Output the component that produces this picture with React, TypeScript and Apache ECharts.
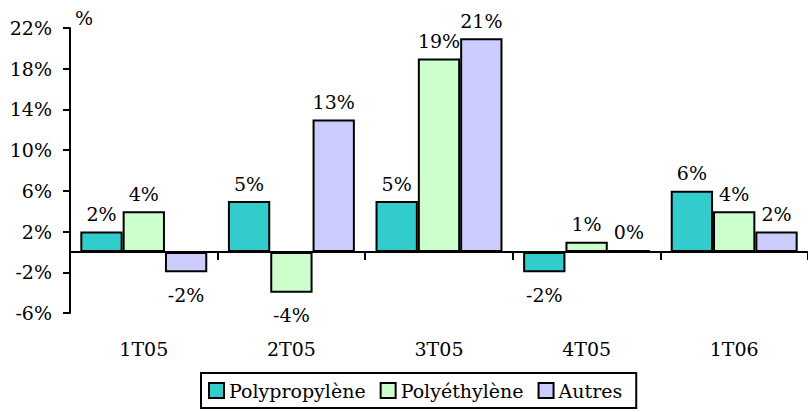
import React, { useEffect, useRef } from "react";
import * as echarts from "echarts";

const categories = ["1T05", "2T05", "3T05", "4T05", "1T06"];
const seriesNames = ["Polypropylène", "Polyéthylène", "Autres"];
const polypropylene = [2, 5, 5, -2, 6];
const polyethylene = [4, -4, 19, 1, 4];
const autres = [-2, 13, 21, 0.2, 2];
const yTicks = [-6, -2, 2, 6, 10, 14, 18, 22];
const colors = ["#33CCCC", "#CCFFCC", "#CCCCFF"];

const FONT = "DejaVu Serif";
const FS = 19;

export default function App() {
  const ref = useRef<HTMLDivElement>(null);
  useEffect(() => {
    if (!ref.current) return;
    const chart = echarts.init(ref.current, undefined, { renderer: "svg" });
    const allSeries = [polypropylene, polyethylene, autres];
    chart.setOption({
      animation: false,
      grid: { left: 70, top: 28, width: 741, height: 285, containLabel: false },
      legend: {
        left: 201,
        top: 373,
        orient: "horizontal",
        data: seriesNames,
        icon: "rect",
        itemWidth: 15,
        itemHeight: 15,
        itemGap: 14,
        padding: [8, 14, 8, 7],
        borderColor: "#000",
        borderWidth: 2,
        textStyle: { fontFamily: FONT, fontSize: FS, color: "#000" },
      },
      xAxis: [
        {
          type: "category",
          data: categories,
          position: "bottom",
          axisLine: { show: true, onZero: true, lineStyle: { color: "#000", width: 2 } },
          axisTick: { show: true, length: 8, lineStyle: { color: "#000", width: 2 } },
          axisLabel: { show: false },
          splitLine: { show: false },
        },
        {
          type: "category",
          data: categories,
          position: "bottom",
          axisLine: { show: false, onZero: false },
          axisTick: { show: false },
          axisLabel: { show: true, margin: 26, fontFamily: FONT, fontSize: FS, color: "#000" },
          splitLine: { show: false },
        },
      ],
      yAxis: {
        type: "value",
        min: -6,
        max: 22,
        axisLine: { show: true, onZero: false, lineStyle: { color: "#000", width: 2 } },
        axisTick: { show: true, length: 7, customValues: yTicks, lineStyle: { color: "#000", width: 2 } },
        axisLabel: {
          show: true,
          customValues: yTicks,
          margin: 18,
          fontFamily: FONT,
          fontSize: FS,
          color: "#000",
          formatter: (v: number) => `${v}%`,
        },
        splitLine: { show: false },
      },
      graphic: [
        {
          type: "text",
          x: 75,
          y: 18,
          style: { text: "%", fontFamily: FONT, fontSize: FS, fill: "#000", verticalAlign: "middle" },
        },
      ],
      series: allSeries.map((vals, i) => ({
        name: seriesNames[i],
        type: "bar",
        xAxisIndex: 0,
        barGap: "0%",
        barCategoryGap: "14%",
        itemStyle: { color: colors[i], borderColor: "#000", borderWidth: 2 },
        label: {
          show: true,
          distance: 8,
          fontFamily: FONT,
          fontSize: FS,
          color: "#000",
          formatter: (p: any) => `${Math.round(p.value)}%`,
        },
        data: vals.map((v) => ({
          value: v,
          label: v < 0 ? { position: "bottom", distance: 13 } : { position: "top", distance: 8 },
        })),
      })),
    });
    return () => chart.dispose();
  }, []);
  return (
    <div
      ref={ref}
      style={{ position: "absolute", left: 0, top: 0, width: 808, height: 412 }}
    />
  );
}
